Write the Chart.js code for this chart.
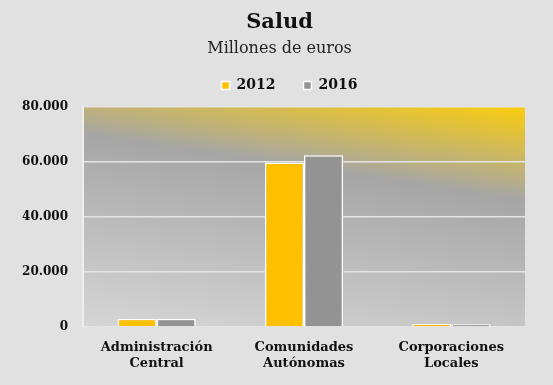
<!DOCTYPE html>
<html>
<head>
<meta charset="utf-8">
<script src="https://cdn.jsdelivr.net/npm/chart.js@4/dist/chart.umd.min.js"></script>
<style>
  html, body { margin: 0; padding: 0; background: #e1e1e1; }
  #wrap { width: 553px; height: 385px; }
</style>
</head>
<body>
<div id="wrap"><canvas id="grafico" width="553" height="385"></canvas></div>
<script>
const categorias = [["Administración", "Central"], ["Comunidades", "Autónomas"], ["Corporaciones", "Locales"]];
const valores2012 = [3000, 59700, 1100];
const valores2016 = [3000, 62300, 1000];
const ticksY = [0, 20000, 40000, 60000, 80000];

function formatoMiles(v) {
  return String(v).replace(/\B(?=(\d{3})+(?!\d))/g, ".");
}

// fondo de la pagina y degradado del area de trazado
const fondoPlugin = {
  id: "fondo",
  afterInit(chart) {
    // la leyenda ocupa menos alto que su relleno horizontal
    const lg = chart.legend;
    const fit = lg.fit.bind(lg);
    lg.fit = function () {
      fit();
      this.height = 48;
    };
  },
  afterLayout(chart) {
    // centrar titulos y leyenda como en el original
    chart.boxes.forEach(b => {
      if (b.position !== "top") return;
      const dx = b === chart.legend ? 27 : 17;
      b.left += dx;
      b.right += dx;
      if (b === chart.legend) b.top -= 8;
    });
  },
  beforeDraw(chart) {
    const ctx = chart.ctx;
    const a = chart.chartArea;
    ctx.save();
    ctx.fillStyle = "#e1e1e1";
    ctx.fillRect(0, 0, chart.width, chart.height);
    const w = a.right - a.left, h = a.bottom - a.top;
    const dx = 0.15, dy = -0.99;
    const L = w * dx + h * (-dy);
    const g = ctx.createLinearGradient(a.left, a.bottom, a.left + L * dx, a.bottom + L * dy);
    g.addColorStop(0, "#d6d6d6");
    g.addColorStop(0.67, "#a6a6a6");
    g.addColorStop(1, "#fbcd0c");
    ctx.fillStyle = g;
    ctx.fillRect(a.left, a.top, w, h);
    ctx.restore();
  }
};

const fuente = "'DejaVu Serif', 'Liberation Serif', serif";

new Chart(document.getElementById("grafico"), {
  type: "bar",
  data: {
    labels: categorias,
    datasets: [
      {
        label: "2012",
        data: valores2012,
        backgroundColor: "#ffc000",
        borderColor: "#ffffff",
        borderWidth: 1.5,
      },
      {
        label: "2016",
        data: valores2016,
        backgroundColor: "#939393",
        borderColor: "#ffffff",
        borderWidth: 1.5,
      },
    ],
  },
  options: {
    responsive: false,
    animation: false,
    layout: { padding: { left: 0, right: 28, top: 0, bottom: 0 } },
    datasets: { bar: { barPercentage: 1, categoryPercentage: 0.53 } },
    plugins: {
      title: {
        display: true,
        text: "Salud",
        color: "#111",
        font: { family: fuente, size: 21, weight: "bold" },
        padding: { top: 10, bottom: 4 },
      },
      subtitle: {
        display: true,
        text: "Millones de euros",
        color: "#222",
        font: { family: fuente, size: 16 },
        padding: { top: 0, bottom: 0 },
      },
      legend: {
        display: true,
        labels: {
          color: "#111",
          boxWidth: 8,
          boxHeight: 8,
          padding: 28,
          font: { family: fuente, size: 14, weight: "bold" },
        },
      },
      tooltip: { enabled: false },
    },
    scales: {
      x: {
        grid: { display: false },
        border: { display: false },
        ticks: {
          color: "#111",
          padding: 5,
          font: { family: fuente, size: 13, weight: "bold" },
          maxRotation: 0,
        },
        afterFit(scale) { scale.height = 58; },
      },
      y: {
        min: 0,
        max: 80000,
        afterBuildTicks(scale) { scale.ticks = ticksY.map(v => ({ value: v })); },
        grid: { color: "#e4e4e4", lineWidth: 1.5, drawTicks: false },
        border: { display: true, color: "#eeeeee", width: 2 },
        ticks: {
          color: "#111",
          padding: 15,
          font: { family: fuente, size: 12, weight: "bold" },
          callback: v => formatoMiles(v),
        },
        afterFit(scale) { scale.width = 83; },
      },
    },
  },
  plugins: [fondoPlugin],
});
</script>
</body>
</html>
